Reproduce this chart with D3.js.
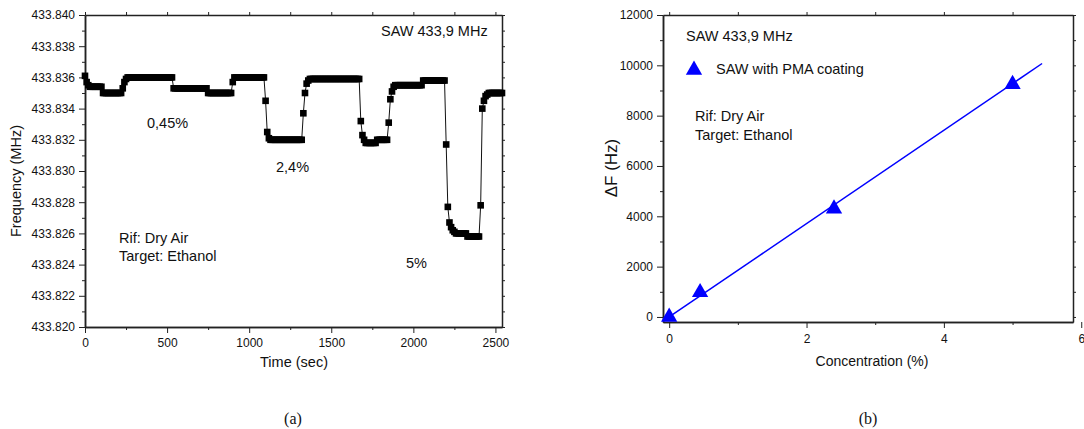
<!DOCTYPE html>
<meta charset="utf-8">
<title>SAW 433,9 MHz - ethanol response</title>
<style>
body { margin: 0; background: #fff; }
svg text { font-family: "Liberation Sans", Arial, sans-serif; fill: #111; }
.tick text { font-size: 12px; }
.domain { stroke: #222; stroke-width: 1.5px; }
.tick line { stroke: #222; stroke-width: 1px; }
.note { font-size: 14.5px; }
.caption { font-family: "Liberation Serif", "Times New Roman", serif; font-size: 16px; }
</style>
<svg width="1084" height="429"></svg>
<script src="https://d3js.org/d3.v7.min.js"></script>
<script>

// ---- data, panel (a): frequency vs time ----
var timeSec = [
  0, 10, 20, 30, 40, 50, 60, 70, 80, 90, 100, 110, 120, 130, 140, 150, 160, 170, 180, 190,
  200, 210, 220, 230, 240, 250, 260, 270, 280, 290, 300, 310, 320, 330, 340, 350, 360, 370, 380, 390,
  400, 410, 420, 430, 440, 450, 460, 470, 480, 490, 500, 510, 520, 530, 540, 550, 560, 570, 580, 590,
  600, 610, 620, 630, 640, 650, 660, 670, 680, 690, 700, 710, 720, 730, 740, 750, 760, 770, 780, 790,
  800, 810, 820, 830, 840, 850, 860, 870, 880, 890, 900, 910, 920, 930, 940, 950, 960, 970, 980, 990,
  1000, 1010, 1020, 1030, 1040, 1050, 1060, 1070, 1080, 1090, 1100, 1110, 1120, 1130, 1140, 1150, 1160, 1170, 1180, 1190,
  1200, 1210, 1220, 1230, 1240, 1250, 1260, 1270, 1280, 1290, 1300, 1310, 1320, 1330, 1340, 1350, 1360, 1370, 1380, 1390,
  1400, 1410, 1420, 1430, 1440, 1450, 1460, 1470, 1480, 1490, 1500, 1510, 1520, 1530, 1540, 1550, 1560, 1570, 1580, 1590,
  1600, 1610, 1620, 1630, 1640, 1650, 1660, 1670, 1680, 1690, 1700, 1710, 1720, 1730, 1740, 1750, 1760, 1770, 1780, 1790,
  1800, 1810, 1820, 1830, 1840, 1850, 1860, 1870, 1880, 1890, 1900, 1910, 1920, 1930, 1940, 1950, 1960, 1970, 1980, 1990,
  2000, 2010, 2020, 2030, 2040, 2050, 2060, 2070, 2080, 2090, 2100, 2110, 2120, 2130, 2140, 2150, 2160, 2170, 2180, 2190,
  2200, 2210, 2220, 2230, 2240, 2250, 2260, 2270, 2280, 2290, 2300, 2310, 2320, 2330, 2340, 2350, 2360, 2370, 2380, 2390,
  2400, 2410, 2420, 2430, 2440, 2450, 2460, 2470, 2480, 2490, 2500, 2510, 2520, 2530, 2540
];
var freqMHz = [
  433.8361, 433.8357, 433.8355, 433.8354, 433.8354, 433.8354, 433.8354, 433.8354, 433.8354, 433.8354,
  433.8354, 433.8350, 433.8350, 433.8350, 433.8350, 433.8350, 433.8350, 433.8350, 433.8350, 433.8350,
  433.8350, 433.8350, 433.8350, 433.8353, 433.8357, 433.8359, 433.8360, 433.8360, 433.8360, 433.8360,
  433.8360, 433.8360, 433.8360, 433.8360, 433.8360, 433.8360, 433.8360, 433.8360, 433.8360, 433.8360,
  433.8360, 433.8360, 433.8360, 433.8360, 433.8360, 433.8360, 433.8360, 433.8360, 433.8360, 433.8360,
  433.8360, 433.8360, 433.8360, 433.8360, 433.8353, 433.8353, 433.8353, 433.8353, 433.8353, 433.8353,
  433.8353, 433.8353, 433.8353, 433.8353, 433.8353, 433.8353, 433.8353, 433.8353, 433.8353, 433.8353,
  433.8353, 433.8353, 433.8353, 433.8353, 433.8353, 433.8350, 433.8350, 433.8350, 433.8350, 433.8350,
  433.8350, 433.8350, 433.8350, 433.8350, 433.8350, 433.8350, 433.8350, 433.8350, 433.8350, 433.8350,
  433.8357, 433.8360, 433.8360, 433.8360, 433.8360, 433.8360, 433.8360, 433.8360, 433.8360, 433.8360,
  433.8360, 433.8360, 433.8360, 433.8360, 433.8360, 433.8360, 433.8360, 433.8360, 433.8360, 433.8360,
  433.8345, 433.8325, 433.8321, 433.8320, 433.8320, 433.8320, 433.8320, 433.8320, 433.8320, 433.8320,
  433.8320, 433.8320, 433.8320, 433.8320, 433.8320, 433.8320, 433.8320, 433.8320, 433.8320, 433.8320,
  433.8320, 433.8320, 433.8320, 433.8337, 433.8350, 433.8356, 433.8358, 433.8359, 433.8359, 433.8359,
  433.8359, 433.8359, 433.8359, 433.8359, 433.8359, 433.8359, 433.8359, 433.8359, 433.8359, 433.8359,
  433.8359, 433.8359, 433.8359, 433.8359, 433.8359, 433.8359, 433.8359, 433.8359, 433.8359, 433.8359,
  433.8359, 433.8359, 433.8359, 433.8359, 433.8359, 433.8359, 433.8359, 433.8359, 433.8332, 433.8323,
  433.8320, 433.8318, 433.8318, 433.8318, 433.8318, 433.8318, 433.8318, 433.8318, 433.8320, 433.8320,
  433.8320, 433.8320, 433.8320, 433.8320, 433.8320, 433.8331, 433.8346, 433.8351, 433.8354, 433.8355,
  433.8355, 433.8355, 433.8355, 433.8355, 433.8355, 433.8355, 433.8355, 433.8355, 433.8355, 433.8355,
  433.8355, 433.8355, 433.8355, 433.8355, 433.8355, 433.8355, 433.8358, 433.8358, 433.8358, 433.8358,
  433.8358, 433.8358, 433.8358, 433.8358, 433.8358, 433.8358, 433.8358, 433.8358, 433.8358, 433.8358,
  433.8317, 433.8277, 433.8267, 433.8264, 433.8262, 433.8261, 433.8260, 433.8260, 433.8260, 433.8260,
  433.8260, 433.8260, 433.8260, 433.8258, 433.8258, 433.8258, 433.8258, 433.8258, 433.8258, 433.8258,
  433.8258, 433.8278, 433.8340, 433.8345, 433.8348, 433.8349, 433.8350, 433.8350, 433.8350, 433.8350,
  433.8350, 433.8350, 433.8350, 433.8350, 433.8350
];
var timeTicks = [0, 500, 1000, 1500, 2000, 2500];
var timeMinor = [250, 750, 1250, 1750, 2250];
var freqTicks = [433.820, 433.822, 433.824, 433.826, 433.828, 433.830, 433.832, 433.834, 433.836, 433.838, 433.840];
var freqMinor = [433.821, 433.823, 433.825, 433.827, 433.829, 433.831, 433.833, 433.835, 433.837, 433.839];

// ---- data, panel (b): frequency shift vs concentration ----
var concPct = [0, 0.45, 2.4, 5];
var deltaHz = [0, 980, 4300, 9250];
var fitConc = [0, 5.43];          // ends of the linear fit
var fitSlope = 1855;              // Hz per %
var concTicks = [0, 2, 4, 6];
var concMinor = [1, 3, 5];
var deltaTicks = [0, 2000, 4000, 6000, 8000, 10000, 12000];
var deltaMinor = [1000, 3000, 5000, 7000, 9000, 11000];

var svg = d3.select("svg");

// draws box axes with major+minor ticks
function frame(g, x, y, xt, xm, yt, ym, xfmt, yfmt, xpad) {
  var x0 = x.range()[0], x1 = x.range()[1], y0 = y.range()[0], y1 = y.range()[1];
  g.append("g").attr("transform", "translate(0," + y0 + ")")
    .call(d3.axisBottom(x).tickValues(xt).tickFormat(xfmt).tickSize(6).tickPadding(xpad).tickSizeOuter(0));
  g.append("g").attr("transform", "translate(0," + y0 + ")")
    .call(d3.axisBottom(x).tickValues(xm).tickFormat("").tickSize(3).tickSizeOuter(0));
  g.append("g").attr("transform", "translate(" + x0 + ",0)")
    .call(d3.axisLeft(y).tickValues(yt).tickFormat(yfmt).tickSize(6).tickPadding(4).tickSizeOuter(0));
  g.append("g").attr("transform", "translate(" + x0 + ",0)")
    .call(d3.axisLeft(y).tickValues(ym).tickFormat("").tickSize(3).tickSizeOuter(0));
  // top and right: ticks only
  g.append("g").attr("transform", "translate(0," + y1 + ")")
    .call(d3.axisTop(x).tickValues(xt.concat(xm).filter(function(d) { return x(d) <= x1 + 0.5; })).tickFormat("").tickSize(3).tickSizeOuter(0));
  g.append("g").attr("transform", "translate(" + x1 + ",0)")
    .call(d3.axisRight(y).tickValues(yt.concat(ym)).tickFormat("").tickSize(3).tickSizeOuter(0));
}

// ===== panel (a) =====
var xa = d3.scaleLinear().domain([0, 2540]).range([85, 502]);
var ya = d3.scaleLinear().domain([433.820, 433.840]).range([327, 15]);
var ga = svg.append("g");
frame(ga, xa, ya, timeTicks, timeMinor, freqTicks, freqMinor, d3.format("d"), d3.format(".3f"), 5.5);

var seriesA = timeSec.map(function(t, i) { return {t: t, f: freqMHz[i]}; });
ga.append("path")
    .datum(seriesA)
    .attr("fill", "none")
    .attr("stroke", "#111")
    .attr("stroke-width", 1)
    .attr("d", d3.line().x(function(d) { return xa(d.t); }).y(function(d) { return ya(d.f); }));
ga.append("g").selectAll("rect")
    .data(seriesA)
  .enter().append("rect")
    .attr("x", function(d) { return xa(d.t) - 3.3; })
    .attr("y", function(d) { return ya(d.f) - 3.3; })
    .attr("width", 6.6)
    .attr("height", 6.6)
    .attr("fill", "#000");

ga.append("text").attr("x", 294).attr("y", 367).attr("text-anchor", "middle")
    .style("font-size", "14.5px").text("Time (sec)");
ga.append("text").attr("transform", "translate(21,181) rotate(-90)").attr("text-anchor", "middle")
    .style("font-size", "14.5px").text("Frequency (MHz)");
ga.append("text").attr("class", "note").attr("x", 381).attr("y", 36).text("SAW 433,9 MHz");
ga.append("text").attr("class", "note").attr("x", 147).attr("y", 128).text("0,45%");
ga.append("text").attr("class", "note").attr("x", 276).attr("y", 172).text("2,4%");
ga.append("text").attr("class", "note").attr("x", 406).attr("y", 268).text("5%");
ga.append("text").attr("class", "note").attr("x", 119).attr("y", 243).text("Rif: Dry Air");
ga.append("text").attr("class", "note").attr("x", 119).attr("y", 261).text("Target: Ethanol");
ga.append("text").attr("class", "caption").attr("x", 293).attr("y", 424).attr("text-anchor", "middle").text("(a)");

// ===== panel (b) =====
var xb = d3.scaleLinear().domain([-0.09, 5.88]).range([663, 1073]);
var yb = d3.scaleLinear().domain([-200, 12000]).range([322, 15]);
var gb = svg.append("g");
frame(gb, xb, yb, concTicks, concMinor, deltaTicks, deltaMinor, d3.format("d"), d3.format("d"), 6.5);

gb.append("line")
    .attr("x1", xb(fitConc[0])).attr("y1", yb(fitSlope * fitConc[0]))
    .attr("x2", xb(fitConc[1])).attr("y2", yb(fitSlope * fitConc[1]))
    .attr("stroke", "#0000ff").attr("stroke-width", 1.5);

var tri = d3.symbol().type(d3.symbolTriangle).size(115);
gb.append("g").selectAll("path")
    .data(concPct.map(function(c, i) { return {c: c, v: deltaHz[i]}; }))
  .enter().append("path")
    .attr("d", tri)
    .attr("transform", function(d) { return "translate(" + xb(d.c) + "," + yb(d.v) + ")"; })
    .attr("fill", "#0000ff");

gb.append("path").attr("d", tri).attr("transform", "translate(694,70)").attr("fill", "#0000ff");
gb.append("text").attr("class", "note").attr("x", 716).attr("y", 74).text("SAW with PMA coating");
gb.append("text").attr("class", "note").attr("x", 686).attr("y", 41).text("SAW 433,9 MHz");
gb.append("text").attr("class", "note").attr("x", 695).attr("y", 121).text("Rif: Dry Air");
gb.append("text").attr("class", "note").attr("x", 695).attr("y", 140).text("Target: Ethanol");

gb.append("text").attr("x", 872).attr("y", 366).attr("text-anchor", "middle")
    .style("font-size", "14px").text("Concentration (%)");
gb.append("text").attr("transform", "translate(617,168) rotate(-90)").attr("text-anchor", "middle")
    .style("font-size", "17px").text("ΔF (Hz)");
gb.append("text").attr("class", "caption").attr("x", 868).attr("y", 424).attr("text-anchor", "middle").text("(b)");

</script>
